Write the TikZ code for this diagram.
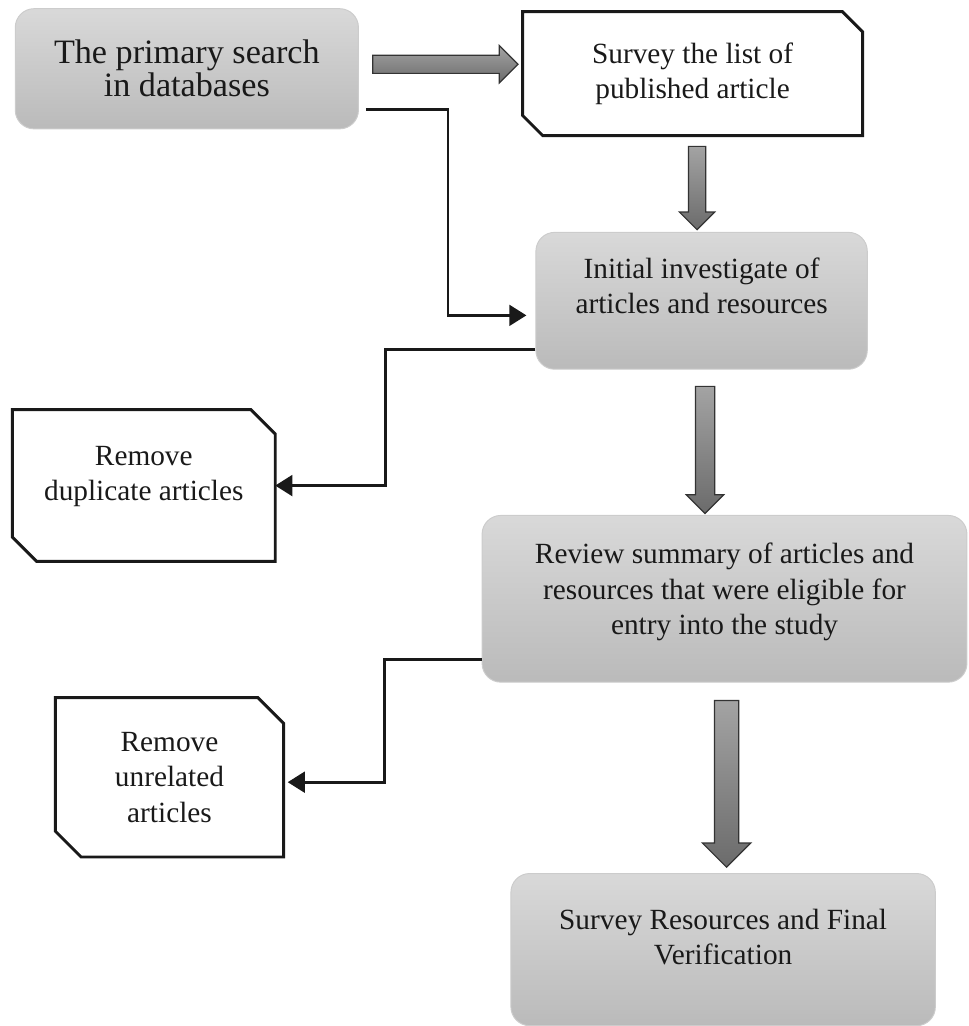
\documentclass[tikz,border=0pt]{standalone}
\usepackage{fontspec}
\setmainfont{Liberation Serif}
\usepackage{tikz}
\usetikzlibrary{shapes,arrows.meta,positioning,calc}

\begin{document}
\begin{tikzpicture}[
  graybox/.style={rectangle, rounded corners=0.27cm, draw=black!20, line width=0.4pt,
    top color=black!15, bottom color=black!27, align=center, inner sep=0.1cm,
    text=black!90, font=\fontsize{12}{14.5}\selectfont},
  cutbox/.style={rectangle, align=center, inner sep=0.1cm, text=black!90,
    font=\fontsize{12}{14.5}\selectfont},
  cutline/.style={line width=1.2pt, black!90, line join=miter},
  bigarrow/.style={single arrow, draw=black!80, line width=0.5pt,
    single arrow tip angle=90, single arrow head indent=0pt,
    top color=black!36, bottom color=black!58},
  link/.style={line width=1.1pt, black!90, -{Triangle[length=7pt,width=8.5pt]}}
]
\useasboundingbox (0,0) rectangle (13.94,-14.77);

% Boxes
\node[graybox, minimum width=4.94cm, minimum height=1.73cm, font=\fontsize{14}{13.5}\selectfont] (search) at (2.69,-0.99) {The primary search\\in databases};
\node[cutbox, minimum width=4.88cm, minimum height=1.77cm] (survey) at (9.97,-1.06) {Survey the list of\\published article};
\node[graybox, minimum width=4.77cm, minimum height=1.97cm] (initial) at (10.10,-4.33) {Initial investigate of\\articles and resources\rule[-0.43cm]{0pt}{0pt}};
\node[cutbox, minimum width=3.77cm, minimum height=2.17cm] (dup) at (2.07,-6.99) {Remove\\duplicate articles\rule[-0.35cm]{0pt}{0pt}};
\node[graybox, minimum width=6.98cm, minimum height=2.40cm] (review) at (10.43,-8.62) {Review summary of articles and\\resources that were eligible for\\entry into the study\rule[-0.29cm]{0pt}{0pt}};
\node[cutbox, minimum width=3.27cm, minimum height=2.28cm] (unrelated) at (2.44,-11.19) {Remove\\unrelated\\articles};
\node[graybox, minimum width=6.11cm, minimum height=2.19cm] (final) at (10.41,-13.67) {Survey Resources and Final\\Verification\rule[-0.36cm]{0pt}{0pt}};

% Cut corners
\foreach \n/\c in {survey/0.29, dup/0.35, unrelated/0.37}
  \draw[cutline] (\n.north west) -- ([xshift=-\c cm]\n.north east) -- ([yshift=-\c cm]\n.north east)
    -- (\n.south east) -- ([xshift=\c cm]\n.south west) -- ([yshift=\c cm]\n.south west) -- cycle;

% Block arrows
\node[bigarrow, inner sep=0.1225cm, minimum height=2.09cm, minimum width=0.52cm, single arrow head extend=0.1375cm] (arrA) at ($(search.east)!0.5!(survey.west)+(0,0.1)$) {};
\node[bigarrow, shape border rotate=270, inner sep=0.115cm, minimum height=1.20cm, minimum width=0.49cm, single arrow head extend=0.13cm] (arrB) at ($(survey.south)!0.5!(initial.north)$) {};
\node[bigarrow, shape border rotate=270, inner sep=0.13cm, minimum height=1.83cm, minimum width=0.52cm, single arrow head extend=0.13cm] (arrC) at ($(initial.south)!0.5!(review.north)+(-0.115,-0.04)$) {};
\node[bigarrow, shape border rotate=270, inner sep=0.165cm, minimum height=2.40cm, minimum width=0.68cm, single arrow head extend=0.175cm] (arrD) at ($(review.south)!0.5!(final.north)+(0.04,0)$) {};

% Side links
\draw[link] ([shift={(0.1,-0.59)}]search.east) -- ++(1.18,0) |- ([shift={(-0.13,-0.21)}]initial.west);
\draw[link] ([yshift=-0.70cm]initial.west) -- ++(-2.16,0) |- (dup.east);
\draw[link] ([yshift=-0.87cm]review.west) -- ++(-1.40,0) |- ([shift={(0.06,-0.07)}]unrelated.east);
\end{tikzpicture}
\end{document}
